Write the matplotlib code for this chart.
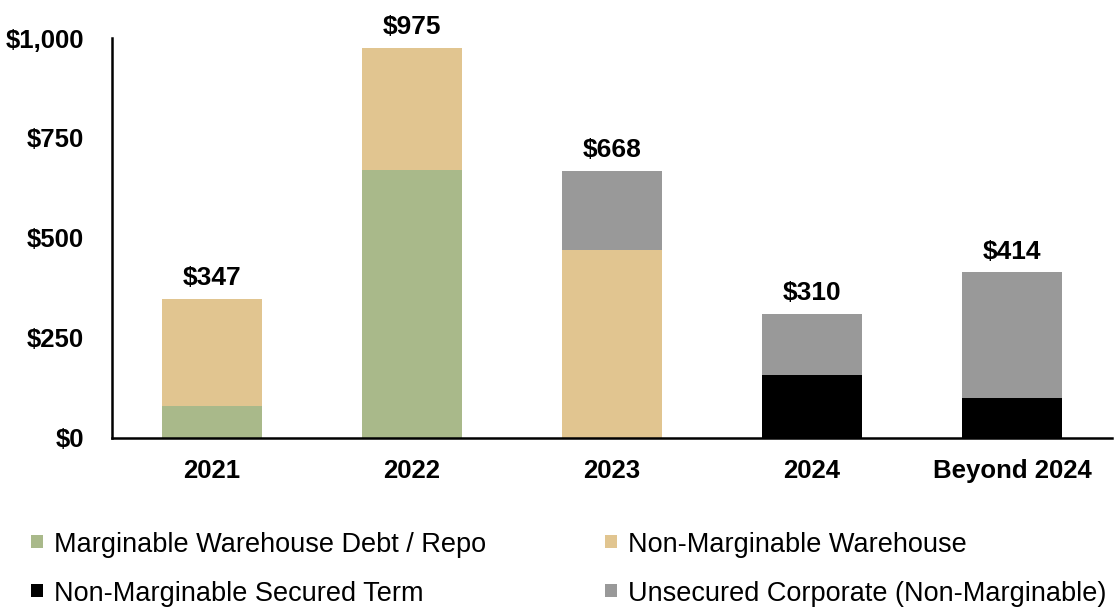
import matplotlib
matplotlib.use("Agg")
import matplotlib.pyplot as plt
import numpy as np

plt.rcParams['font.family'] = ['Liberation Sans', 'DejaVu Sans']

categories = ["2021", "2022", "2023", "2024", "Beyond 2024"]
marginable_wh = [81, 670, 0, 0, 0]
nonmarg_wh = [266, 305, 470, 0, 0]
nonmarg_secured = [0, 0, 0, 157, 99]
unsecured_corp = [0, 0, 198, 153, 315]
totals = [347, 975, 668, 310, 414]
yticks = [0, 250, 500, 750, 1000]

series = [
    ("Marginable Warehouse Debt / Repo", marginable_wh, "#A9B98A"),
    ("Non-Marginable Warehouse", nonmarg_wh, "#E1C590"),
    ("Non-Marginable Secured Term", nonmarg_secured, "#000000"),
    ("Unsecured Corporate (Non-Marginable)", unsecured_corp, "#999999"),
]

fig = plt.figure(figsize=(11.15, 6.09), dpi=100)
ax = fig.add_axes([0.1004, 0.2808, 0.8969, 0.6568])

x = np.arange(len(categories))
bottom = np.zeros(len(categories))
handles = {}
for name, vals, col in series:
    b = ax.bar(x, vals, 0.5, bottom=bottom, color=col, label=name)
    handles[name] = b
    bottom += np.array(vals)

for xi, t in zip(x, totals):
    ax.text(xi, t + 22, f"${t:,}", ha="center", va="bottom", fontsize=19, fontweight="bold")

ax.set_xlim(-0.5, 4.5)
ax.set_ylim(0, 1000)
ax.set_yticks(yticks)
ax.set_yticklabels([f"${v:,}" for v in yticks], fontsize=18.5, fontweight="bold")
ax.set_xticks(x)
ax.set_xticklabels(categories, fontsize=18.5, fontweight="bold")
ax.tick_params(axis="both", length=0)
ax.tick_params(axis="y", pad=20)
ax.tick_params(axis="x", pad=15)
for s in ["top", "right"]:
    ax.spines[s].set_visible(False)
ax.spines["left"].set_linewidth(1.8)
ax.spines["bottom"].set_linewidth(1.8)

order = [series[0][0], series[2][0], series[1][0], series[3][0]]
fig.legend([handles[n] for n in order], order, loc="lower left",
           bbox_to_anchor=(0.006, -0.036), ncol=2, frameon=False, fontsize=19.5,
           handlelength=0.44, handleheight=0.37, handletextpad=0.4,
           columnspacing=4.4, labelspacing=0.85)

fig.savefig("out.png", dpi=100)
